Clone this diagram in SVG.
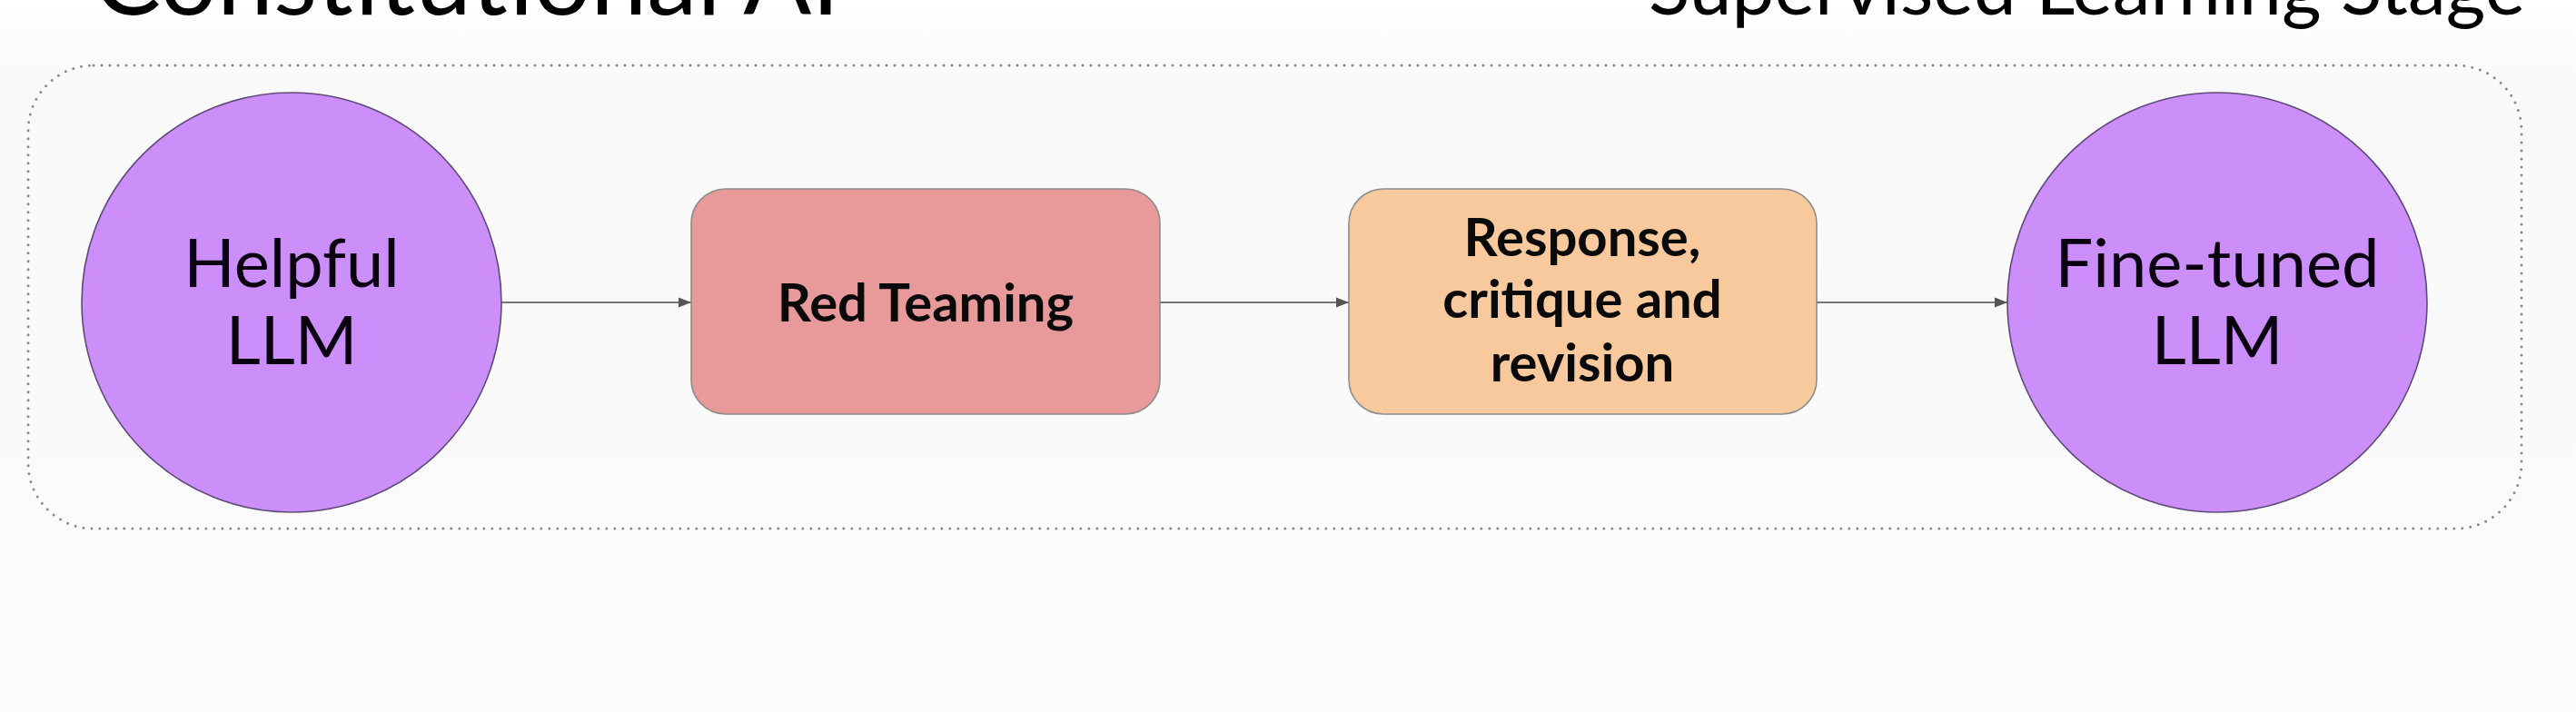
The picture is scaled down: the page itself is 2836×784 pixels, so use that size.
<svg xmlns="http://www.w3.org/2000/svg" width="2836" height="784" viewBox="0 0 2836 784">
  <defs>
    <style>
      .title { font-family: Lato, "Liberation Sans", sans-serif; fill: #000; }
      .llm { fill: #cc8ef8; stroke: #5e4a78; stroke-width: 1.6; }
      .ctext { font-family: Lato, "Liberation Sans", sans-serif; font-size: 74px; fill: #0a0010; text-anchor: middle; }
      .btext { font-family: Lato, "Liberation Sans", sans-serif; font-weight: bold; font-size: 58px; fill: #0a0a0a; text-anchor: middle; }
      .box { stroke: #8c8c8c; stroke-width: 1.6; }
      .conn { stroke: #777; stroke-width: 2; fill: none; marker-end: url(#arr); }
    </style>
    <marker id="arr" viewBox="0 0 10 10" refX="10" refY="5" markerWidth="7" markerHeight="7" markerUnits="strokeWidth" orient="auto">
      <path d="M0,1 L10,5 L0,9 Z" fill="#555"/>
    </marker>
    <linearGradient id="bg" x1="0" y1="0" x2="0" y2="1">
      <stop offset="0" stop-color="#ffffff"/>
      <stop offset="0.12" stop-color="#f9f9f9"/>
      <stop offset="1" stop-color="#fbfbfb"/>
    </linearGradient>
  </defs>
  <rect x="0" y="0" width="2836" height="784" fill="url(#bg)"/>

  <text class="title" x="103" y="16" font-size="111">Constitutional AI</text>
  <text class="title" x="2780" y="16" font-size="84" text-anchor="end">Supervised Learning Stage</text>

  <rect id="container" x="31" y="72" width="2745" height="510" rx="72" ry="72" fill="none" stroke="#8a8a8a" stroke-width="3" stroke-dasharray="0 9" stroke-linecap="round"/>

  <g id="connectors">
    <line class="conn" x1="552" y1="333" x2="761" y2="333"/>
    <line class="conn" x1="1277" y1="333" x2="1485" y2="333"/>
    <line class="conn" x1="2000" y1="333" x2="2210" y2="333"/>
  </g>

  <g id="helpful-llm">
    <circle class="llm" cx="321" cy="333" r="231"/>
    <text class="ctext" x="321" y="316">Helpful</text>
    <text class="ctext" x="321" y="401">LLM</text>
  </g>

  <g id="red-teaming">
    <rect class="box" x="761" y="208" width="516" height="248" rx="38" ry="38" fill="#e89a9a"/>
    <text class="btext" x="1019" y="354">Red Teaming</text>
  </g>

  <g id="response-critique">
    <rect class="box" x="1485" y="208" width="515" height="248" rx="38" ry="38" fill="#f7c99d"/>
    <text class="btext" x="1742" y="282">Response,</text>
    <text class="btext" x="1742" y="350">critique and</text>
    <text class="btext" x="1742" y="420">revision</text>
  </g>

  <g id="fine-tuned-llm">
    <circle class="llm" cx="2441" cy="333" r="231"/>
    <text class="ctext" x="2441" y="316">Fine-tuned</text>
    <text class="ctext" x="2441" y="401">LLM</text>
  </g>
</svg>
